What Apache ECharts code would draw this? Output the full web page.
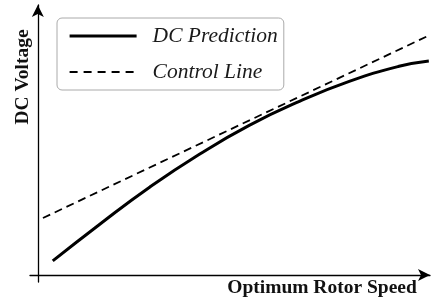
<!DOCTYPE html>
<html>
<head>
<meta charset="utf-8">
<script src="https://cdn.jsdelivr.net/npm/echarts@6/dist/echarts.min.js"></script>
<style>
html,body{margin:0;padding:0;background:#fff;}
#chart{width:431px;height:304px;}
</style>
</head>
<body>
<div id="chart"></div>
<script>
// speed / voltage (arbitrary units)
var predSpeed = [0.38, 1.58, 2.85, 4.12, 5.39, 6.67, 7.94, 9.21, 9.97];
var predVolt = [0.52, 1.88, 3.25, 4.47, 5.54, 6.43, 7.17, 7.73, 7.93];
var ctrlSpeed = [0.13, 10];
var ctrlVolt = [2.11, 8.89];

var pred = predSpeed.map(function(x, i){ return [x, predVolt[i]]; });
var ctrl = ctrlSpeed.map(function(x, i){ return [x, ctrlVolt[i]]; });

var font = '"Liberation Serif", "Times New Roman", serif';

var option = {
    animation: false,
    grid: {left: 30, right: 1, top: 5, bottom: 22},
    legend: {
        orient: 'vertical',
        left: 57,
        top: 18,
        padding: [7, 6, 7, 11],
        backgroundColor: '#fff',
        borderColor: '#aaa',
        borderWidth: 1,
        borderRadius: 5,
        itemWidth: 67,
        itemHeight: 14,
        itemGap: 14,
        itemStyle: {opacity: 0},
        textStyle: {
            fontFamily: font,
            fontStyle: 'italic',
            fontSize: 21.5,
            lineHeight: 22,
            color: '#1a1a1a',
            padding: [0, 0, 0, 11]
        },
        data: [
            {name: 'DC Prediction', lineStyle: {width: 3.2}},
            {name: 'Control Line', lineStyle: {width: 2.2, type: [8, 6]}}
        ]
    },
    xAxis: {
        type: 'value',
        min: -0.2,
        max: 10,
        axisLine: {onZero: true, symbol: ['none', 'arrow'], symbolSize: [9, 12], lineStyle: {color: '#000', width: 1.3}},
        axisTick: {show: false},
        axisLabel: {show: false},
        splitLine: {show: false}
    },
    yAxis: {
        type: 'value',
        min: -0.26,
        max: 10,
        axisLine: {onZero: true, symbol: ['none', 'arrow'], symbolSize: [9, 12], lineStyle: {color: '#000', width: 1.3}},
        axisTick: {show: false},
        axisLabel: {show: false},
        splitLine: {show: false}
    },
    graphic: [
        {
            type: 'text',
            x: 23, y: 77,
            rotation: Math.PI / 2,
            style: {text: 'DC Voltage', font: 'bold 19.5px ' + font, fill: '#111', align: 'center', verticalAlign: 'middle'}
        },
        {
            type: 'text',
            x: 322, y: 288,
            style: {text: 'Optimum Rotor Speed', font: 'bold 19.5px ' + font, fill: '#111', align: 'center', verticalAlign: 'middle'}
        }
    ],
    series: [
        {
            name: 'DC Prediction',
            type: 'line',
            smooth: true,
            symbol: 'none',
            lineStyle: {color: '#000', width: 3},
            itemStyle: {color: '#000'},
            data: pred
        },
        {
            name: 'Control Line',
            type: 'line',
            symbol: 'none',
            lineStyle: {color: '#000', width: 1.8, type: [8, 5]},
            itemStyle: {color: '#000'},
            data: ctrl
        }
    ]
};

var myChart = echarts.init(document.getElementById('chart'));
myChart.setOption(option);
</script>
</body>
</html>
